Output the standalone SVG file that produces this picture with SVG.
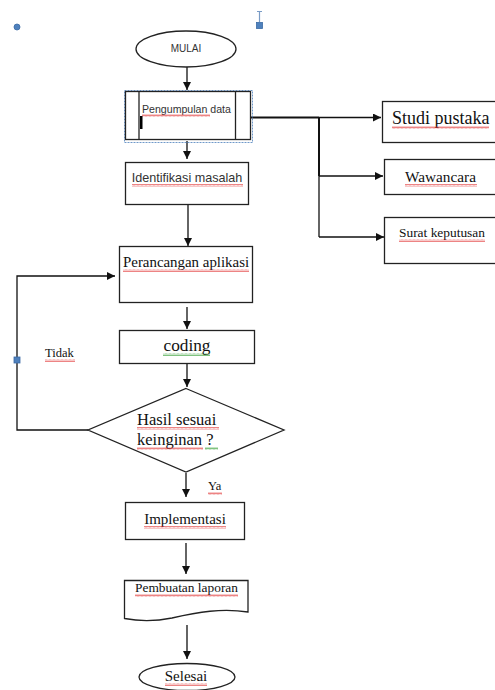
<svg xmlns="http://www.w3.org/2000/svg" width="495" height="690" viewBox="0 0 495 690">
<style>
.box{fill:#fff;stroke:#222;stroke-width:1.3}
.ln{fill:none;stroke:#111;stroke-width:1.3}
.thick{fill:none;stroke:#111;stroke-width:2}
.serif{font-family:"Liberation Serif","Times New Roman",serif;fill:#111}
.sans{font-family:"Liberation Sans",Arial,sans-serif;fill:#333}
.sq{fill:url(#wavy)}
.sqg{fill:url(#wavyg)}
.blue{fill:#4f81bd;stroke:#3a6aa5;stroke-width:0.8}
</style>
<defs>
<marker id="arr" viewBox="0 0 10 10" refX="10" refY="5" markerWidth="8" markerHeight="8" markerUnits="userSpaceOnUse" orient="auto">
<path d="M0,0 L10,5 L0,10 z" fill="#111"/>
</marker>
<pattern id="wavy" width="4" height="3" patternUnits="userSpaceOnUse">
<path d="M0,2.5 L1,0.5 L2,2.5 L3,0.5 L4,2.5" fill="none" stroke="#e03030" stroke-width="0.6"/>
</pattern>
<pattern id="wavyg" width="4" height="3" patternUnits="userSpaceOnUse">
<path d="M0,2.5 L1,0.5 L2,2.5 L3,0.5 L4,2.5" fill="none" stroke="#2a9a2a" stroke-width="0.6"/>
</pattern>
</defs>
<rect width="495" height="690" fill="#fff"/>

<g id="handles">
<circle cx="17" cy="27" r="3" class="blue"/>
<line x1="259.5" y1="11" x2="259.5" y2="22" stroke="#7a9cc6" stroke-width="1.2"/>
<line x1="257" y1="11.5" x2="262" y2="11.5" stroke="#7a9cc6" stroke-width="1"/>
<rect x="256.5" y="22.5" width="6" height="6" class="blue"/>
</g>

<g id="connectors">
<line x1="187" y1="67" x2="187" y2="90" class="ln" marker-end="url(#arr)"/>
<line x1="187" y1="141" x2="187" y2="159" class="ln" marker-end="url(#arr)"/>
<line x1="188" y1="204" x2="188" y2="246" class="ln" marker-end="url(#arr)"/>
<line x1="187" y1="307" x2="187" y2="329" class="ln" marker-end="url(#arr)"/>
<line x1="187" y1="364" x2="187" y2="387" class="ln" marker-end="url(#arr)"/>
<line x1="186" y1="473" x2="186" y2="497" class="ln" marker-end="url(#arr)"/>
<line x1="186" y1="543" x2="186" y2="574" class="ln" marker-end="url(#arr)"/>
<line x1="187" y1="625" x2="187" y2="659" class="ln" marker-end="url(#arr)"/>
<line x1="251" y1="117.5" x2="319" y2="117.5" class="thick"/>
<line x1="319" y1="117.5" x2="381" y2="117.5" class="ln" marker-end="url(#arr)"/>
<line x1="319" y1="117" x2="319" y2="176" class="thick"/>
<line x1="319" y1="176" x2="319" y2="237" class="ln"/>
<line x1="319" y1="176" x2="383" y2="176" class="ln" marker-end="url(#arr)"/>
<line x1="319" y1="237" x2="384" y2="237" class="ln" marker-end="url(#arr)"/>
<polyline points="88,430 17,430 17,276 115,276" class="ln" marker-end="url(#arr)"/>
<rect x="14" y="357" width="6" height="6" class="blue"/>
</g>

<g id="mulai">
<ellipse cx="186" cy="49" rx="50" ry="18" class="box"/>
<text x="186" y="52" font-size="10" text-anchor="middle" class="sans" fill="#555">MULAI</text>
</g>

<g id="pengumpulan">
<rect x="124.5" y="90.5" width="128" height="52" fill="none" stroke="#4a7ebb" stroke-width="0.8" stroke-dasharray="2,1"/>
<rect x="125.5" y="91.5" width="125" height="48" class="box"/>
<line x1="139" y1="91.5" x2="139" y2="139.5" stroke="#222" stroke-width="1.3"/>
<line x1="235.5" y1="91.5" x2="235.5" y2="139.5" stroke="#222" stroke-width="1.3"/>
<text x="142" y="113" font-size="10.6" class="sans">Pengumpulan data</text>
<rect x="142" y="114" width="68" height="3" class="sq"/>
<rect x="140" y="116" width="2.5" height="13" fill="#000"/>
</g>

<g id="identifikasi">
<rect x="125.5" y="162.5" width="123" height="42" class="box"/>
<text x="187" y="182" font-size="12.6" text-anchor="middle" class="sans" fill="#222">Identifikasi masalah</text>
<rect x="132" y="184" width="111" height="3" class="sq"/>
</g>

<g id="studi">
<rect x="382.5" y="101.5" width="120" height="41" class="box"/>
<text x="392" y="124" font-size="18" class="serif">Studi pustaka</text>
<rect x="392" y="126" width="97" height="3" class="sq"/>
</g>

<g id="wawancara">
<rect x="384.5" y="159.5" width="120" height="35" class="box"/>
<text x="405" y="182" font-size="15.3" class="serif">Wawancara</text>
<rect x="405" y="184" width="72" height="3" class="sq"/>
</g>

<g id="surat">
<rect x="384.5" y="217.5" width="120" height="46" class="box"/>
<text x="399" y="237" font-size="12.5" class="serif" textLength="86" lengthAdjust="spacingAndGlyphs">Surat keputusan</text>
<rect x="399" y="239" width="86" height="3" class="sq"/>
</g>

<g id="perancangan">
<rect x="119.5" y="246.5" width="133" height="56" class="box"/>
<text x="123" y="267" font-size="14.9" class="serif">Perancangan aplikasi</text>
<rect x="123" y="269" width="126" height="3" class="sq"/>
</g>

<g id="coding">
<rect x="119.5" y="330.5" width="135" height="33" class="box"/>
<text x="187" y="351" font-size="17.3" text-anchor="middle" class="serif">coding</text>
<rect x="163" y="353" width="47" height="3" class="sqg"/>
</g>

<g id="keputusan">
<polygon points="186,388.5 284,430 186,472 88,430" class="box"/>
<text x="137" y="425" font-size="16.5" class="serif">Hasil sesuai</text>
<text x="137" y="445" font-size="16.5" class="serif">keinginan ?</text>
<rect x="137" y="427" width="82" height="3" class="sq"/>
<rect x="137" y="447" width="66" height="3" class="sq"/>
<rect x="205" y="447" width="13" height="3" class="sqg"/>
</g>

<g id="labels">
<text x="45" y="357" font-size="12.5" class="serif">Tidak</text>
<rect x="45" y="359" width="30" height="3" class="sq"/>
<text x="208" y="490" font-size="12.5" class="serif">Ya</text>
<rect x="208" y="492" width="14" height="3" class="sq"/>
</g>

<g id="implementasi">
<rect x="125.5" y="502.5" width="119" height="37" class="box"/>
<text x="185" y="524" font-size="15" text-anchor="middle" class="serif">Implementasi</text>
<rect x="144" y="526" width="82" height="3" class="sq"/>
</g>

<g id="pembuatan">
<path d="M124.5,580.5 H248 V612 C222,608 198,612 172,618 C152,622 138,621 124.5,618.5 Z" class="box"/>
<text x="135" y="592" font-size="13.4" class="serif">Pembuatan laporan</text>
<rect x="135" y="594" width="103" height="3" class="sq"/>
</g>

<g id="selesai">
<ellipse cx="187" cy="677" rx="48" ry="13.5" class="box"/>
<text x="186" y="681" font-size="15" text-anchor="middle" class="serif">Selesai</text>
<rect x="165" y="683" width="42" height="3" class="sq"/>
</g>
</svg>
